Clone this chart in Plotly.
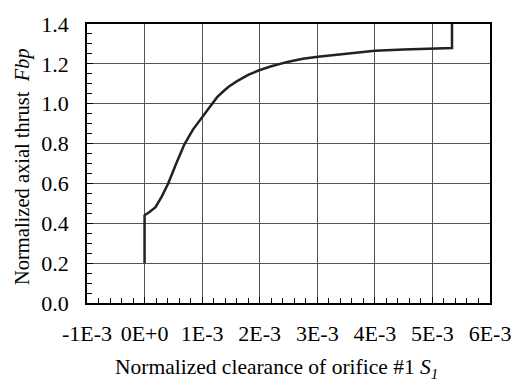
import plotly.graph_objects as go

# Data
s1 = [0.0, 0.0, 0.00008, 0.00019, 0.0003, 0.00041, 0.00055, 0.00069, 0.00084, 0.00098,
      0.00109, 0.00117, 0.00126, 0.00136, 0.00146, 0.0016, 0.0018, 0.00199, 0.0022,
      0.0025, 0.00275, 0.00301, 0.00346, 0.004, 0.0045, 0.00499, 0.00534, 0.00534]
fbp = [0.20, 0.44, 0.455, 0.481, 0.535, 0.60, 0.70, 0.795, 0.87, 0.924,
       0.968, 1.000, 1.033, 1.060, 1.085, 1.112, 1.145, 1.168, 1.188,
       1.211, 1.226, 1.236, 1.250, 1.266, 1.272, 1.277, 1.279, 1.41]

x_tickvals = [-0.001, 0.0, 0.001, 0.002, 0.003, 0.004, 0.005, 0.006]
x_ticktext = ["-1E-3", "0E+0", "1E-3", "2E-3", "3E-3", "4E-3", "5E-3", "6E-3"]
y_tickvals = [0.0, 0.2, 0.4, 0.6, 0.8, 1.0, 1.2, 1.4]
y_ticktext = ["0.0", "0.2", "0.4", "0.6", "0.8", "1.0", "1.2", "1.4"]

x_title = "Normalized clearance of orifice #1 <i>S<sub>1</sub></i>"
y_title = "Normalized axial thrust\u2002<i>Fbp</i>"

FONT = "Liberation Serif"
TICK_FS = 22

fig = go.Figure()
fig.add_trace(go.Scatter(x=s1, y=fbp, mode="lines",
                         line=dict(color="#222222", width=2.5),
                         cliponaxis=False, showlegend=False))

fig.update_layout(
    width=523, height=383,
    margin=dict(l=87, r=22, t=13, b=80),
    paper_bgcolor="white", plot_bgcolor="white",
    font=dict(family=FONT, size=21, color="black"),
)
fig.update_xaxes(
    range=[-0.001, 0.006], tickvals=x_tickvals, ticktext=x_ticktext,
    tickfont=dict(family=FONT, size=TICK_FS, color="black"),
    showgrid=True, gridcolor="#555555", gridwidth=1,
    showline=True, linecolor="black", linewidth=1.5, mirror=True,
    ticks="inside", ticklen=6, tickcolor="black",
    ticklabelstandoff=10,
    minor=dict(dtick=0.0002, ticks="inside", ticklen=5, tickcolor="black", showgrid=False),
    zeroline=False,
)
fig.update_yaxes(
    range=[0, 1.4], tickvals=y_tickvals, ticktext=y_ticktext,
    tickfont=dict(family=FONT, size=TICK_FS, color="black"),
    showgrid=True, gridcolor="#555555", gridwidth=1,
    showline=True, linecolor="black", linewidth=1.5, mirror=True,
    ticks="inside", ticklen=6, tickcolor="black",
    ticklabelstandoff=12,
    minor=dict(dtick=0.05, ticks="inside", ticklen=5, tickcolor="black", showgrid=False),
    zeroline=False,
)

fig.add_annotation(text=x_title, xref="paper", yref="paper", x=0.470, y=-0.236,
                   xanchor="center", yanchor="middle", showarrow=False,
                   font=dict(family=FONT, size=21.5, color="black"))
fig.add_annotation(text=y_title, xref="paper", yref="paper", x=-0.1595, y=0.49,
                   xanchor="center", yanchor="middle", showarrow=False, textangle=-90,
                   font=dict(family=FONT, size=20.5, color="black"))

fig.write_html("out.html")
